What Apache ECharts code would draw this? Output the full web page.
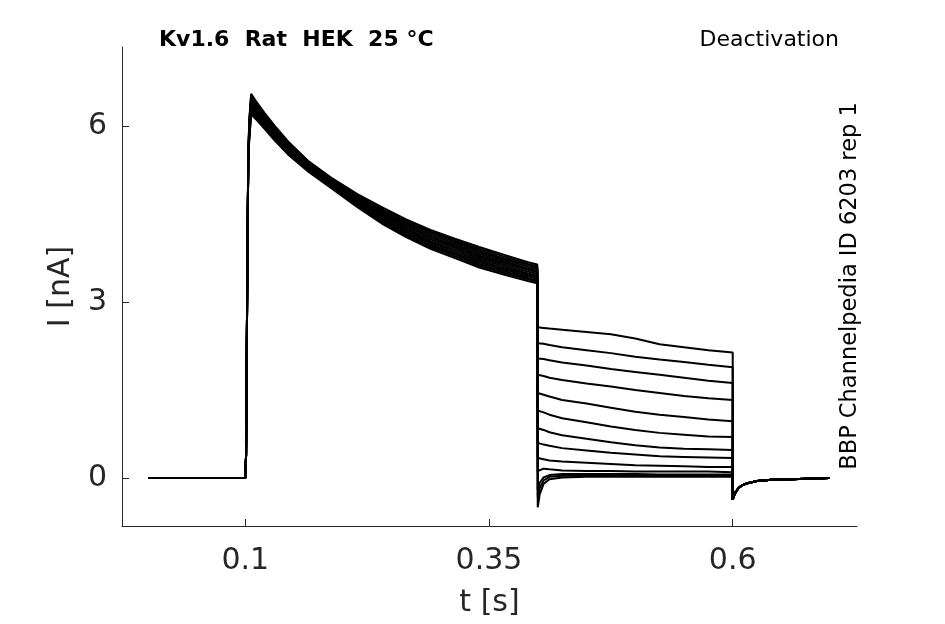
<!DOCTYPE html>
<html>
<head>
<meta charset="utf-8">
<script src="https://cdn.jsdelivr.net/npm/echarts@6/dist/echarts.min.js"></script>
<style>
    html, body { margin: 0; padding: 0; background: #fff; }
    #chart { width: 945px; height: 624px; }
</style>
</head>
<body>
<div id="chart"></div>
<script>
// time grids [s]
const tPre = [0.001, 0.1];
const tAct = [0.1, 0.1008, 0.102, 0.103, 0.104, 0.106, 0.112, 0.12, 0.13, 0.145, 0.165,
    0.19, 0.215, 0.24, 0.265, 0.29, 0.315, 0.34, 0.365, 0.39, 0.3995];
const tDeact = [0.4, 0.402, 0.406, 0.412, 0.425, 0.45, 0.475, 0.5, 0.525, 0.55, 0.575, 0.6];
const tTail = [0.6, 0.601, 0.603, 0.606, 0.61, 0.615, 0.625, 0.64, 0.66, 0.699];

// current [nA]
const iPre = [0, 0];
const iAct = [
    [0, 0.4, 3.4, 5.4, 6.10, 6.55, 6.40, 6.22, 6.01, 5.72, 5.40, 5.10, 4.84, 4.62, 4.41, 4.23, 4.08, 3.94, 3.81, 3.68, 3.64],
    [0, 0.4, 3.4, 5.4, 6.07, 6.52, 6.38, 6.20, 5.99, 5.70, 5.39, 5.09, 4.82, 4.60, 4.39, 4.20, 4.05, 3.91, 3.78, 3.65, 3.61],
    [0, 0.4, 3.4, 5.4, 6.04, 6.49, 6.35, 6.18, 5.97, 5.68, 5.37, 5.07, 4.80, 4.57, 4.36, 4.18, 4.03, 3.88, 3.75, 3.63, 3.59],
    [0, 0.4, 3.4, 5.4, 6.01, 6.46, 6.33, 6.15, 5.95, 5.67, 5.36, 5.06, 4.79, 4.55, 4.34, 4.15, 4.00, 3.85, 3.73, 3.60, 3.56],
    [0, 0.4, 3.4, 5.4, 5.98, 6.43, 6.30, 6.13, 5.93, 5.65, 5.34, 5.04, 4.77, 4.53, 4.31, 4.12, 3.97, 3.82, 3.70, 3.57, 3.53],
    [0, 0.4, 3.4, 5.4, 5.95, 6.40, 6.28, 6.11, 5.91, 5.63, 5.33, 5.03, 4.75, 4.50, 4.29, 4.10, 3.94, 3.79, 3.67, 3.55, 3.51],
    [0, 0.4, 3.4, 5.4, 5.93, 6.38, 6.25, 6.09, 5.89, 5.61, 5.31, 5.01, 4.73, 4.48, 4.26, 4.07, 3.92, 3.77, 3.64, 3.52, 3.48],
    [0, 0.4, 3.4, 5.4, 5.90, 6.35, 6.23, 6.06, 5.86, 5.59, 5.30, 5.00, 4.71, 4.46, 4.24, 4.04, 3.89, 3.74, 3.61, 3.49, 3.45],
    [0, 0.4, 3.4, 5.4, 5.87, 6.32, 6.20, 6.04, 5.84, 5.57, 5.28, 4.98, 4.69, 4.43, 4.21, 4.02, 3.86, 3.71, 3.58, 3.47, 3.43],
    [0, 0.4, 3.4, 5.4, 5.84, 6.29, 6.18, 6.02, 5.82, 5.56, 5.27, 4.97, 4.68, 4.41, 4.19, 3.99, 3.83, 3.68, 3.56, 3.44, 3.40],
    [0, 0.4, 3.4, 5.4, 5.81, 6.26, 6.15, 6.00, 5.80, 5.54, 5.25, 4.95, 4.66, 4.39, 4.16, 3.96, 3.81, 3.65, 3.53, 3.41, 3.37],
    [0, 0.4, 3.4, 5.4, 5.78, 6.23, 6.13, 5.97, 5.78, 5.52, 5.24, 4.94, 4.64, 4.36, 4.14, 3.94, 3.78, 3.62, 3.50, 3.39, 3.35],
    [0, 0.4, 3.4, 5.4, 5.75, 6.20, 6.10, 5.95, 5.76, 5.50, 5.22, 4.92, 4.62, 4.34, 4.11, 3.91, 3.75, 3.59, 3.47, 3.36, 3.32]
];
const iDeact = [
    [2.57, 2.57, 2.56, 2.55, 2.53, 2.49, 2.45, 2.38, 2.28, 2.23, 2.18, 2.14],
    [2.30, 2.30, 2.29, 2.27, 2.23, 2.18, 2.13, 2.07, 2.02, 1.98, 1.93, 1.89],
    [2.04, 2.04, 2.03, 2.01, 1.97, 1.92, 1.86, 1.81, 1.76, 1.71, 1.66, 1.62],
    [1.76, 1.75, 1.74, 1.71, 1.67, 1.61, 1.56, 1.50, 1.45, 1.40, 1.36, 1.33],
    [1.45, 1.44, 1.42, 1.39, 1.33, 1.27, 1.20, 1.13, 1.08, 1.04, 1.00, 0.97],
    [1.15, 1.14, 1.12, 1.08, 1.02, 0.95, 0.88, 0.82, 0.77, 0.74, 0.71, 0.70],
    [0.85, 0.84, 0.82, 0.78, 0.73, 0.67, 0.61, 0.56, 0.52, 0.50, 0.49, 0.48],
    [0.60, 0.59, 0.57, 0.55, 0.51, 0.47, 0.43, 0.40, 0.37, 0.36, 0.35, 0.34],
    [0.34, 0.33, 0.32, 0.30, 0.28, 0.26, 0.24, 0.22, 0.21, 0.20, 0.19, 0.19],
    [0.12, 0.15, 0.16, 0.15, 0.13, 0.12, 0.12, 0.11, 0.11, 0.11, 0.11, 0.10],
    [-0.20, -0.08, 0.01, 0.05, 0.07, 0.07, 0.07, 0.07, 0.06, 0.06, 0.06, 0.06],
    [-0.33, -0.17, -0.04, 0.02, 0.04, 0.04, 0.04, 0.04, 0.04, 0.04, 0.04, 0.04],
    [-0.50, -0.28, -0.10, -0.02, 0.01, 0.02, 0.02, 0.02, 0.02, 0.02, 0.02, 0.02]
];
const iTail = [-0.37, -0.31, -0.24, -0.17, -0.12, -0.09, -0.05, -0.03, -0.02, 0.0];

// axes
const xTicks = [0.1, 0.35, 0.6];
const yTicks = [0, 3, 6];

const AXIS_COLOR = '#262626';
const FONT = 'DejaVu Sans';

function pairs(ts, vs) {
    return ts.map((t, k) => [t, vs[k]]);
}

function buildSeries() {
    const series = [];
    for (let i = 0; i < iAct.length; i++) {
        const data = [].concat(
            pairs(tPre, iPre),
            pairs(tAct, iAct[i]),
            pairs(tDeact, iDeact[i]),
            pairs(tTail, iTail)
        );
        series.push({
            name: 'sweep ' + (i + 1),
            type: 'line',
            data: data,
            showSymbol: false,
            symbol: 'none',
            lineStyle: { color: '#000', width: 2 },
            z: 3
        });
    }
    return series;
}

const option = {
    animation: false,
    backgroundColor: '#fff',
    grid: { left: 122, right: 88, top: 47, bottom: 98, containLabel: false },
    xAxis: {
        type: 'value',
        min: -0.0265,
        max: 0.7275,
        name: 't [s]',
        nameLocation: 'middle',
        nameGap: 62,
        nameTextStyle: { color: AXIS_COLOR, fontSize: 30, fontFamily: FONT },
        axisLine: { show: true, onZero: false, lineStyle: { color: AXIS_COLOR, width: 1 } },
        axisTick: { show: true, inside: true, length: 7, customValues: xTicks, lineStyle: { color: AXIS_COLOR } },
        axisLabel: {
            customValues: xTicks, margin: 20, color: AXIS_COLOR, fontSize: 30, fontFamily: FONT,
            formatter: v => String(v)
        },
        splitLine: { show: false }
    },
    yAxis: {
        type: 'value',
        min: -0.818,
        max: 7.35,
        name: 'I [nA]',
        nameLocation: 'middle',
        nameGap: 46,
        nameTextStyle: { color: AXIS_COLOR, fontSize: 30, fontFamily: FONT },
        axisLine: { show: true, onZero: false, lineStyle: { color: AXIS_COLOR, width: 1 } },
        axisTick: { show: true, inside: true, length: 7, customValues: yTicks, lineStyle: { color: AXIS_COLOR } },
        axisLabel: {
            customValues: yTicks, margin: 15, color: AXIS_COLOR, fontSize: 30, fontFamily: FONT,
            formatter: v => String(v)
        },
        splitLine: { show: false }
    },
    graphic: [
        {
            type: 'text', left: 159, top: 29,
            style: { text: 'Kv1.6  Rat  HEK  25 °C', fill: '#000', font: 'bold 22px "DejaVu Sans"' }
        },
        {
            type: 'text', right: 106, top: 29,
            style: { text: 'Deactivation', fill: '#000', font: '22px "DejaVu Sans"' }
        },
        {
            type: 'text', x: 850, y: 286, rotation: Math.PI / 2,
            style: {
                text: 'BBP Channelpedia ID 6203 rep 1', fill: '#000', font: '22.5px "DejaVu Sans"',
                align: 'center', verticalAlign: 'middle'
            }
        }
    ],
    series: buildSeries()
};

const myChart = echarts.init(document.querySelector('#chart'), null, { renderer: 'canvas' });
myChart.setOption(option);
</script>
</body>
</html>
